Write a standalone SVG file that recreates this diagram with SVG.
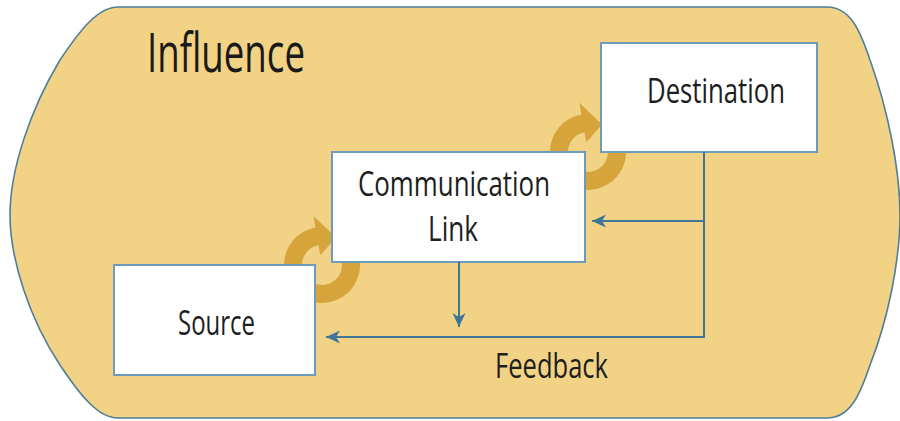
<svg xmlns="http://www.w3.org/2000/svg" width="900" height="421" viewBox="0 0 900 421">
<style>
.box{fill:#ffffff;stroke:#6f9bba;stroke-width:2}
.gold{fill:#d5a43a}
.conn{fill:none;stroke:#3f7597;stroke-width:2}
.lbl{font-family:"Open Sans","Liberation Sans",sans-serif;font-size:35px;fill:#1e1e1e}
.title{font-family:"Open Sans","Liberation Sans",sans-serif;font-size:54px;fill:#1a1a1a}
</style>
<defs>
<marker id="ah" markerUnits="userSpaceOnUse" markerWidth="15" markerHeight="15" viewBox="0 -7 15 14" refX="14" refY="0" orient="auto">
<path d="M0,-6.5 L14,0 L0,6.5 L4,0 Z" fill="#3f7597"/>
</marker>
<g id="cyc">
<path class="gold" d="M284,265 A38,38 0 0 1 315.4,227.6 L313.3,215.8 L336.1,237.4 L320.3,255.2 L318.5,245.3 A20,20 0 0 0 302,265 Z"/>
<path class="gold" d="M357.7,252 A38,38 0 0 1 303,297.9 L312,282.3 A20,20 0 0 0 340.8,258.2 Z"/>
</g>
</defs>
<g id="influence">
<path d="M118,7 L827,7 C850,7 860,30 870,60 C888,110 900,170 900,215 C900,260 888,320 870,365 C860,395 850,418 827,418 L118,418 C98,418 80,395 60,365 C30,320 10,260 10,215 C10,170 30,110 60,60 C80,30 98,7 118,7 Z" fill="#f2d386" stroke="#4e7e9a" stroke-width="1.6"/>
<text class="title" x="147" y="72" textLength="158" lengthAdjust="spacingAndGlyphs">Influence</text>
</g>
<g id="cycles">
<use href="#cyc"/>
<use href="#cyc" transform="translate(266,-113)"/>
</g>
<g id="source">
<rect class="box" x="114" y="265" width="201" height="110"/>
<text class="lbl" x="178" y="335" textLength="77" lengthAdjust="spacingAndGlyphs">Source</text>
</g>
<g id="link">
<rect class="box" x="332" y="152" width="253" height="110"/>
<text class="lbl" x="358" y="196" textLength="192" lengthAdjust="spacingAndGlyphs">Communication</text>
<text class="lbl" x="428" y="241" textLength="50" lengthAdjust="spacingAndGlyphs">Link</text>
</g>
<g id="destination">
<rect class="box" x="601" y="43" width="216" height="109"/>
<text class="lbl" x="647" y="103" textLength="138" lengthAdjust="spacingAndGlyphs">Destination</text>
</g>
<g id="connectors">
<path class="conn" d="M704,152 L704,337 L326,337" marker-end="url(#ah)"/>
<path class="conn" d="M704,221 L592,221" marker-end="url(#ah)"/>
<path class="conn" d="M459,262 L459,327" marker-end="url(#ah)"/>
</g>
<text class="lbl" x="495" y="378" textLength="113" lengthAdjust="spacingAndGlyphs">Feedback</text>
</svg>
